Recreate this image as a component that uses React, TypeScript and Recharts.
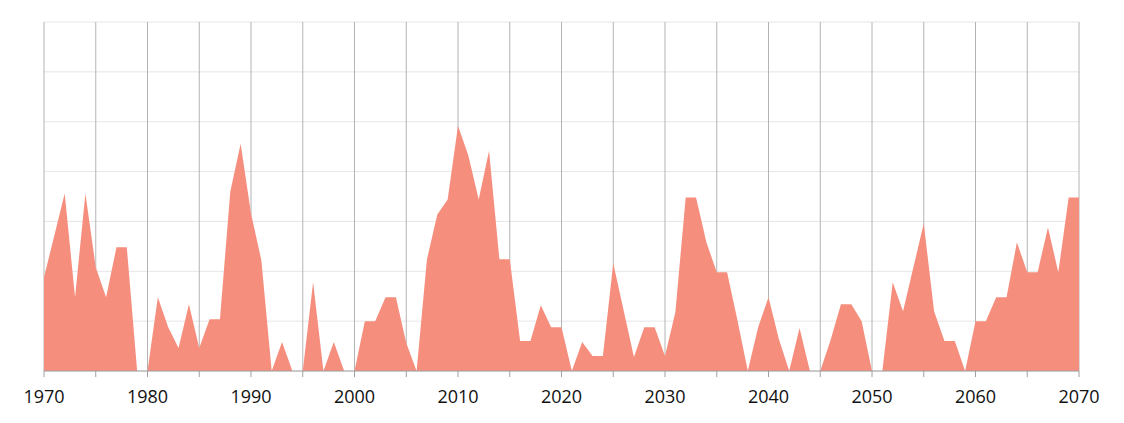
import React from 'react';
import { AreaChart, Area, XAxis, YAxis, CartesianGrid } from 'recharts';

const years: number[] = [];
for (let y = 1970; y <= 2070; y++) years.push(y);

const values: number[] = [
  94, 136, 178, 74, 178, 104, 74, 124, 124, 0,
  0, 74, 44, 23, 67, 23, 52, 52, 180, 228,
  158, 111, 0, 29, 0, 0, 89, 0, 29, 0,
  0, 50, 50, 74, 74, 28, 0, 112, 157, 172,
  246, 216, 172, 221, 112, 112, 30, 30, 66, 44,
  44, 0, 29, 15, 15, 108, 61, 14, 44, 44,
  15, 59, 174, 174, 129, 99, 99, 51, 0, 44,
  74, 32, 0, 43, 0, 0, 31, 67, 67, 50,
  0, 0, 89, 60, 104, 148, 60, 30, 30, 0,
  50, 50, 74, 74, 129, 99, 99, 144, 99, 174,
  174,
];

const xTicks: number[] = [1970, 1975, 1980, 1985, 1990, 1995, 2000, 2005, 2010, 2015, 2020, 2025, 2030, 2035, 2040, 2045, 2050, 2055, 2060, 2065, 2070];
const yTicks: number[] = [0, 50, 100, 150, 200, 250, 300, 350];

const data = years.map((year, i) => ({ year, value: values[i] }));

export default function App() {
  return (
    <div style={{ position: 'absolute', left: 0, top: 0, width: 1124, height: 423, background: '#fff' }}>
      <AreaChart width={1124} height={423} data={data} margin={{ top: 22, right: 45, bottom: 0, left: 44 }}>
        <CartesianGrid vertical={false} stroke="#e6e6e6" strokeWidth={1} />
        <CartesianGrid horizontal={false} stroke="#b4b4b4" strokeWidth={1} />
        <XAxis
          dataKey="year"
          type="number"
          domain={[1970, 2070]}
          ticks={xTicks}
          interval={0}
          tickFormatter={(v: number) => (v % 10 === 0 ? String(v) : '')}
          height={52}
          tickSize={6}
          tickMargin={13}
          stroke="#a0a0a0"
          tick={{ fill: '#111', fontSize: 18, fontFamily: 'Open Sans, Noto Sans, sans-serif' }}
        />
        <YAxis hide domain={[0, 350]} ticks={yTicks} />
        <Area
          type="linear"
          dataKey="value"
          stroke="none"
          fill="#f68e7e"
          fillOpacity={1}
          isAnimationActive={false}
        />
      </AreaChart>
    </div>
  );
}
